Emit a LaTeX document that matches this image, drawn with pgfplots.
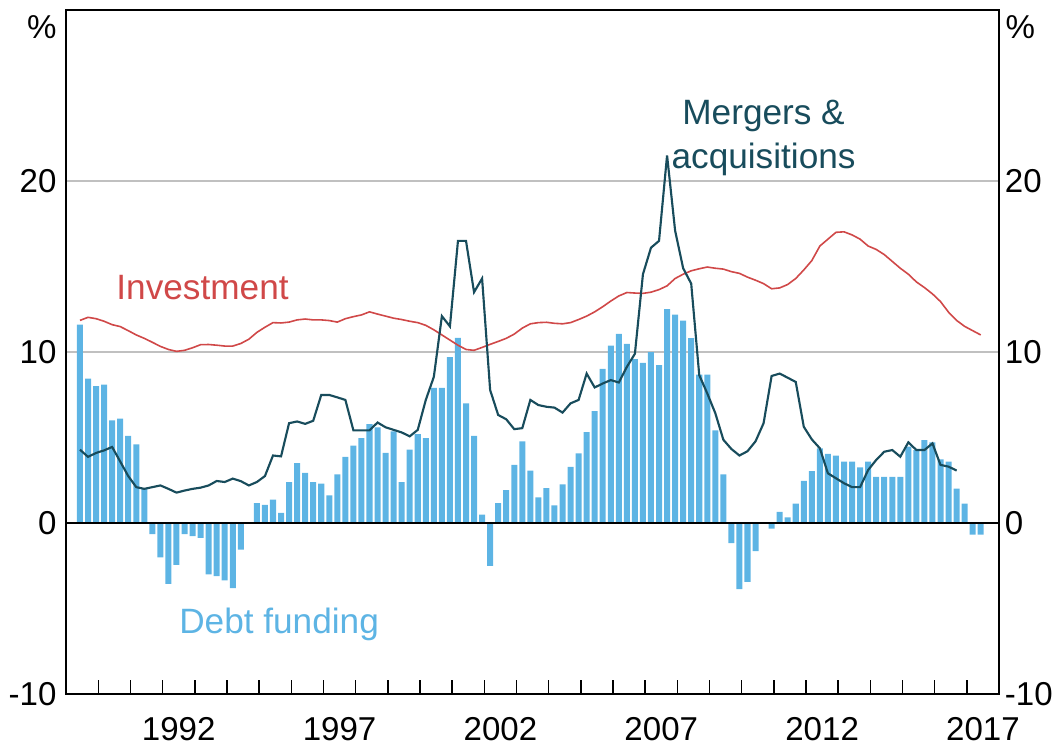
\documentclass[border=0pt]{standalone}
\usepackage{fontspec}
\setmainfont{Liberation Sans}
\usepackage{pgfplots}
\pgfplotsset{compat=1.18}
\usepackage{pgfplotstable}
\usetikzlibrary{calc}

\definecolor{debtblue}{RGB}{93,180,228}
\definecolor{mateal}{RGB}{24,76,92}
\definecolor{invred}{RGB}{208,72,72}
\definecolor{gridgrey}{RGB}{192,192,192}

% quarterly: debt funding (bars), mergers & acquisitions, investment
\pgfplotstableread{
x       debt   ma     inv
1989.43 11.6   4.29   11.85
1989.68 8.45   3.87   12.03
1989.93 8.0    4.1    11.95
1990.18 8.1    4.25   11.8
1990.43 6.0    4.45   11.6
1990.68 6.1    3.6    11.49
1990.93 5.1    2.75   11.25
1991.18 4.6    2.1    11.0
1991.43 2.0    2.0    10.8
1991.68 -0.64  2.1    10.57
1991.93 -2.0   2.2    10.33
1992.18 -3.56  2.0    10.15
1992.43 -2.44  1.78   10.04
1992.68 -0.64  1.9    10.1
1992.93 -0.77  2.0    10.25
1993.18 -0.87  2.07   10.43
1993.43 -3.0   2.2    10.44
1993.68 -3.1   2.46   10.4
1993.93 -3.35  2.4    10.35
1994.18 -3.8   2.6    10.35
1994.43 -1.55  2.45   10.5
1994.68 0      2.2    10.75
1994.93 1.16   2.4    11.15
1995.18 1.06   2.75   11.45
1995.43 1.37   3.95   11.72
1995.68 0.6    3.9    11.7
1995.93 2.4    5.84   11.75
1996.18 3.5    5.94   11.88
1996.43 2.94   5.8    11.93
1996.68 2.4    5.98   11.88
1996.93 2.3    7.49   11.88
1997.18 1.62   7.49   11.84
1997.43 2.84   7.35   11.75
1997.68 3.87   7.2    11.95
1997.93 4.53   5.42   12.07
1998.18 4.97   5.42   12.17
1998.43 5.78   5.42   12.35
1998.68 5.6    5.88   12.22
1998.93 4.1    5.6    12.1
1999.18 5.36   5.45   11.98
1999.43 2.4    5.3    11.9
1999.68 4.3    5.07   11.8
1999.93 5.2    5.45   11.72
2000.18 4.97   7.2    11.56
2000.43 7.9    8.55   11.3
2000.68 7.9    12.1   11.0
2000.93 9.7    11.5   10.7
2001.18 10.83  16.5   10.4
2001.43 7.0    16.5   10.15
2001.68 5.1    13.5   10.1
2001.93 0.5    14.3   10.27
2002.18 -2.5   7.78   10.45
2002.43 1.16   6.32   10.62
2002.68 1.93   6.07   10.8
2002.93 3.4    5.49   11.05
2003.18 4.78   5.55   11.4
2003.43 3.06   7.2    11.65
2003.68 1.5    6.9    11.72
2003.93 2.05   6.8    11.74
2004.18 1.04   6.75   11.68
2004.43 2.26   6.46   11.65
2004.68 3.29   7.0    11.72
2004.93 4.08   7.2    11.9
2005.18 5.32   8.74   12.1
2005.43 6.54   7.93   12.35
2005.68 9.01   8.16   12.65
2005.93 10.37  8.36   12.98
2006.18 11.06  8.22   13.28
2006.43 10.48  9.13   13.48
2006.68 9.59   9.9    13.45
2006.93 9.36   14.55  13.43
2007.18 10.0   16.1   13.5
2007.43 9.23   16.5   13.65
2007.68 12.51  21.5   13.87
2007.93 12.19  17.1   14.3
2008.18 11.84  14.9   14.55
2008.43 10.81  14.0   14.75
2008.68 8.68   8.65   14.87
2008.93 8.68   7.58   14.97
2009.18 5.42   6.42   14.9
2009.43 2.84   4.87   14.85
2009.68 -1.18  4.33   14.7
2009.93 -3.87  3.95   14.6
2010.18 -3.44  4.2    14.38
2010.43 -1.64  4.78   14.2
2010.68 0      5.84   14.0
2010.93 -0.33  8.6    13.7
2011.18 0.66   8.74   13.75
2011.43 0.33   8.5    13.95
2011.68 1.13   8.25   14.3
2011.93 2.47   5.63   14.8
2012.18 3.03   4.89   15.35
2012.43 4.37   4.37   16.2
2012.68 4.04   2.91   16.6
2012.93 3.94   2.62   17.0
2013.18 3.59   2.33   17.03
2013.43 3.59   2.1    16.85
2013.68 3.26   2.1    16.6
2013.93 3.59   3.1    16.2
2014.18 2.7    3.69   16.0
2014.43 2.7    4.17   15.7
2014.68 2.7    4.27   15.3
2014.93 2.7    3.88   14.9
2015.18 4.47   4.72   14.55
2015.43 4.27   4.27   14.1
2015.68 4.85   4.27   13.77
2015.93 4.72   4.66   13.4
2016.18 3.73   3.4    12.95
2016.43 3.59   3.3    12.33
2016.68 2.02   3.07   11.85
2016.93 1.13   nan    11.5
2017.18 -0.68  nan    11.25
2017.43 -0.68  nan    11.0
}\data

\begin{document}
\begin{tikzpicture}
\begin{axis}[
  width=349.8pt, height=256.5pt, scale only axis,
  xmin=1989, xmax=2018, ymin=-10, ymax=30,
  clip=false,
  axis line style={line width=0.75pt},
  xtick={1990,...,2017}, xticklabels={},
  xtick pos=left, tick align=inside, major tick length=5.3pt,
  xtick style={line width=0.6pt, black},
  extra x ticks={1992.5,1997.5,2002.5,2007.5,2012.5,2017.5},
  extra x tick labels={1992,1997,2002,2007,2012,2017},
  extra x tick style={major tick length=0pt},
  xticklabel style={inner sep=0pt, anchor=north, yshift=-8.6pt},
  ytick={-10,0,10,20}, yticklabels={-10,0,10,20},
  ytick style={draw=none},
  ymajorgrids, grid style={gridgrey, line width=0.75pt},
  yticklabel style={inner sep=0pt, anchor=east, xshift=-3.45pt},
  tick label style={font=\fontsize{12.4}{14}\selectfont},
]
\coordinate (bl) at (rel axis cs:0,0);
\coordinate (tr) at (rel axis cs:1,1);
\addplot[ybar, bar width=0.187, fill=debtblue, draw=none] table[x=x, y=debt]{\data};
\addplot[black, line width=0.75pt] coordinates {(1989,0) (2018,0)};
\addplot[invred, line width=0.6pt] table[x=x, y=inv]{\data};
\addplot[mateal, line width=0.8pt] table[x=x, y=ma]{\data};

\node[anchor=base, text=mateal, inner sep=0pt, font=\fontsize{13.2}{16}\selectfont] at (axis cs:2010.68,23.31) {Mergers \&};
\node[anchor=base, text=mateal, inner sep=0pt, font=\fontsize{13.2}{16}\selectfont] at (axis cs:2010.68,20.76) {acquisitions};
\node[anchor=base, text=invred, inner sep=0pt, font=\fontsize{13.2}{16}\selectfont] at (axis cs:1993.24,13.05) {Investment};
\node[anchor=base, text=debtblue, inner sep=0pt, font=\fontsize{13.2}{16}\selectfont] at (axis cs:1995.62,-6.45) {Debt funding};
\node[anchor=base east, inner sep=0pt, xshift=-3.45pt, font=\fontsize{12.4}{14}\selectfont] at (axis cs:1989,28.34) {\%};
\node[anchor=base west, inner sep=0pt, xshift=2.25pt, font=\fontsize{12.4}{14}\selectfont] at (axis cs:2018,28.34) {\%};
\end{axis}
\begin{axis}[
  width=349.8pt, height=256.5pt, scale only axis,
  xmin=1989, xmax=2018, ymin=-10, ymax=30,
  hide x axis, axis y line*=right,
  axis line style={line width=0.75pt},
  ytick={-10,0,10,20}, yticklabels={-10,0,10,20},
  ytick style={draw=none},
  yticklabel style={inner sep=0pt, anchor=west, xshift=2pt},
  tick label style={font=\fontsize{12.4}{14}\selectfont},
]
\addplot[draw=none] coordinates {(1990,0)};
\end{axis}
\pgfresetboundingbox
\path[use as bounding box] ($(bl)+(-24.8pt,-19.9pt)$) rectangle ($(tr)+(20.6pt,3.75pt)$);
\end{tikzpicture}
\end{document}
